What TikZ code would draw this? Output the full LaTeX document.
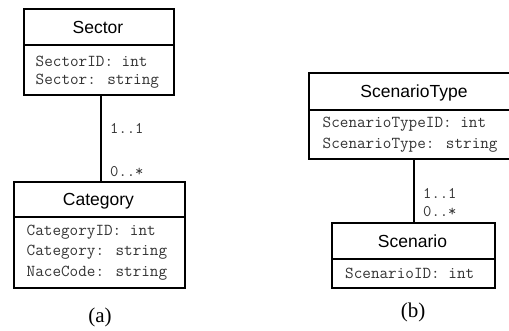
\documentclass[tikz,border=0pt]{standalone}
\usepackage{fontspec}
\setmainfont{Liberation Serif}
\newfontfamily\hdrfont{Liberation Sans}
\begin{document}
\begin{tikzpicture}[x=1pt,y=-1pt,
  umlbox/.style={draw=black, line width=2.2pt, rectangle, inner sep=0pt, anchor=north west},
  sepline/.style={line width=2.2pt},
  hdr/.style={font=\hdrfont\fontsize{17.5}{20}\selectfont, inner sep=0pt, anchor=center},
  attr/.style={font=\ttfamily\fontsize{16.7}{19}\selectfont, text=black!80, inner sep=0pt, anchor=west},
  mult/.style={font=\ttfamily\fontsize{16.2}{19}\selectfont, text=black!80, inner sep=0pt, anchor=west},
  link/.style={line width=2.2pt},
  subcap/.style={font=\fontsize{21}{25}\selectfont, inner sep=0pt, anchor=center}]
\useasboundingbox (0,0) rectangle (509,331);
% (a)
\node[umlbox, minimum width=150pt, minimum height=86pt] (sector) at (23,8) {};
\draw[sepline] (23,45) -- (173,45);
\node[hdr] (sectorT) at (98,27) {Sector};
\node[attr] (sectorA1) at (35.5,61) {SectorID: int};
\node[attr] (sectorA2) at (35.5,81) {Sector: string};

\node[umlbox, minimum width=171pt, minimum height=106pt] (category) at (13,181) {};
\draw[sepline] (13,217) -- (184,217);
\node[hdr] (categoryT) at (98.5,201.5) {Category};
\node[attr] (categoryA1) at (26.5,232) {CategoryID: int};
\node[attr] (categoryA2) at (26.5,252.5) {Category: string};
\node[attr] (categoryA3) at (26.5,273) {NaceCode: string};

\draw[link] ([xshift=2pt]sector.south) -- ([xshift=2pt]sector.south |- category.north);
\node[mult] (m1) at (110,128) {1..1};
\node[mult] (m2) at (110,172) {0..*};
\node[subcap] (capa) at (100,317) {(a)};

% (b)
\node[umlbox, minimum width=240pt, minimum height=86pt] (sctype) at (308,72) {};
\draw[sepline] (308,110) -- (548,110);
\node[hdr] (sctypeT) at (414,93) {ScenarioType};
\node[attr] (sctypeA1) at (322.5,124) {ScenarioTypeID: int};
\node[attr] (sctypeA2) at (322.5,145) {ScenarioType: string};

\node[umlbox, minimum width=163pt, minimum height=65pt] (scenario) at (331,222) {};
\draw[sepline] (331,259) -- (494,259);
\node[hdr] (scenarioT) at (412.5,241) {Scenario};
\node[attr] (scenarioA1) at (345,273) {ScenarioID: int};

\draw[link] ([xshift=0.5pt]scenario.north) -- ([xshift=0.5pt]scenario.north |- sctype.south);
\node[mult] (m3) at (423,193) {1..1};
\node[mult] (m4) at (423,212) {0..*};
\node[subcap] (capb) at (413,312) {(b)};
\end{tikzpicture}
\end{document}
